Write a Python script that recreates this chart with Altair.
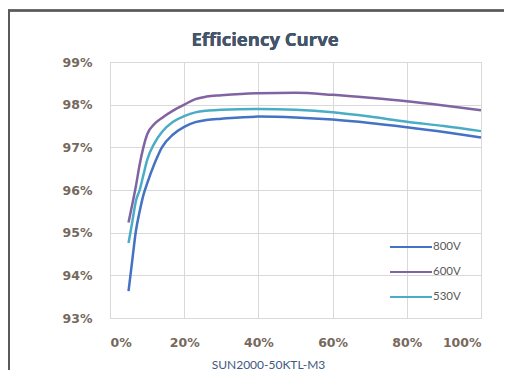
import altair as alt
import pandas as pd

# Load (% of rated power)
load = [5, 6, 7, 8, 9, 10, 12, 14, 17, 20, 23, 26, 30, 40, 50, 60, 70, 80, 90, 100]
# Efficiency (%) per input voltage
eff_800 = [93.63, 94.35, 95.05, 95.5, 95.88, 96.15, 96.62, 97.0, 97.3, 97.48, 97.59, 97.64, 97.67,
           97.72, 97.7, 97.65, 97.57, 97.47, 97.36, 97.23]
eff_600 = [95.24, 95.66, 96.1, 96.6, 97.0, 97.3, 97.55, 97.69, 97.86, 98.0, 98.13, 98.19, 98.22,
           98.27, 98.28, 98.23, 98.16, 98.08, 97.98, 97.87]
eff_530 = [94.76, 95.25, 95.75, 96.0, 96.35, 96.7, 97.1, 97.36, 97.6, 97.73, 97.82, 97.86, 97.88,
           97.9, 97.88, 97.82, 97.72, 97.6, 97.5, 97.38]

series = ["800V", "600V", "530V"]
colors = ["#4472c4", "#8064a2", "#4bacc6"]
y_ticks = [93, 94, 95, 96, 97, 98, 99]
x_ticks = [0, 20, 40, 60, 80, 100]

rows = []
for name, vals in zip(series, [eff_800, eff_600, eff_530]):
    for l, e in zip(load, vals):
        rows.append({"load": l / 100, "eff": e / 100, "series": name})
df = pd.DataFrame(rows)
legend_df = pd.DataFrame({"series": series})

color_scale = alt.Scale(domain=series, range=colors)
LABEL_FONT = "DejaVu Sans"
LABEL_COLOR = "#76695c"

lines = alt.Chart(df).mark_line(strokeWidth=2.5, interpolate="monotone").encode(
    x=alt.X("load:Q", scale=alt.Scale(domain=[0, 1], nice=False),
            axis=alt.Axis(values=[v / 100 for v in x_ticks], format=".0%",
                          title="SUN2000-50KTL-M3", titleFont="Lato", titleFontSize=12,
                          titleFontWeight="normal", titleColor="#3d5a80",
                          titleX=158, titleY=41, titleAnchor="start", titleAlign="center")),
    y=alt.Y("eff:Q", scale=alt.Scale(domain=[0.93, 0.99], nice=False),
            axis=alt.Axis(values=[v / 100 for v in y_ticks], format=".0%", title=None)),
    color=alt.Color("series:N", scale=color_scale, legend=None),
)

leg_y = alt.Y("series:N", sort=series,
              scale=alt.Scale(type="point", domain=series, range=[185, 235], padding=0),
              axis=None)
leg_rules = alt.Chart(legend_df).mark_rule(strokeWidth=2).encode(
    x=alt.value(280), x2=alt.value(322), y=leg_y,
    color=alt.Color("series:N", scale=color_scale, legend=None),
)
leg_text = alt.Chart(legend_df).mark_text(align="left", baseline="middle", font="Lato",
                                          fontSize=11.5, color="#595959").encode(
    x=alt.value(323), y=leg_y, text="series:N",
)
legend = alt.layer(leg_rules, leg_text)

title = alt.Chart(legend_df).mark_text(text="Efficiency Curve", font="Open Sans", fontSize=18.5,
                                       fontWeight="bold", color="#44546a",
                                       align="center", baseline="middle").encode(
    x=alt.value(155), y=alt.value(-22))

border_top = alt.Chart(legend_df).mark_rule(color="#5a5a5a", strokeWidth=2).encode(
    x=alt.value(-101), x2=alt.value(394), y=alt.value(-51.5))
border_left = alt.Chart(legend_df).mark_rule(color="#5a5a5a", strokeWidth=2).encode(
    x=alt.value(-101), y=alt.value(-52.5), y2=alt.value(330))

chart = alt.layer(lines, legend, title, border_top, border_left).resolve_scale(
    y="independent"
).properties(
    width=371, height=256,
    padding={"left": 102, "top": 54, "right": 23, "bottom": 52},
    autosize="none",
).configure_view(
    stroke="#d0d0d0", strokeWidth=1
).configure_axis(
    grid=True, gridColor="#d9d9d9", gridWidth=1, domain=False, ticks=False,
    labelFont=LABEL_FONT, labelFontSize=12.5, labelFontWeight="bold", labelColor=LABEL_COLOR,
).configure_axisY(
    labelPadding=18
).configure_axisX(
    labelPadding=18
)

chart.save("out.html", embed_options={"renderer": "svg", "actions": False})
